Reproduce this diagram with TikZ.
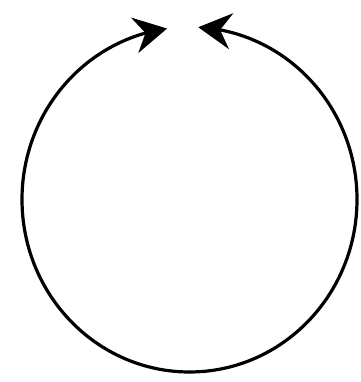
\documentclass[tikz,border=0pt]{standalone}
\usetikzlibrary{arrows.meta,bending}
\begin{document}
\begin{tikzpicture}[x=1pt,y=1pt,
  loop/.style={line width=3.2pt,line cap=round,-{Stealth[length=33pt,width=36pt,inset=11pt,flex]}}]
\useasboundingbox (0,0) rectangle (360,382);
\coordinate (bottom) at (189.5,10);
\draw[loop] (bottom) arc[start angle=270,end angle=97.7,x radius=167.5,y radius=172.5];
\draw[loop] (bottom) arc[start angle=-90,end angle=87,x radius=167.5,y radius=172.5];
\end{tikzpicture}
\end{document}
